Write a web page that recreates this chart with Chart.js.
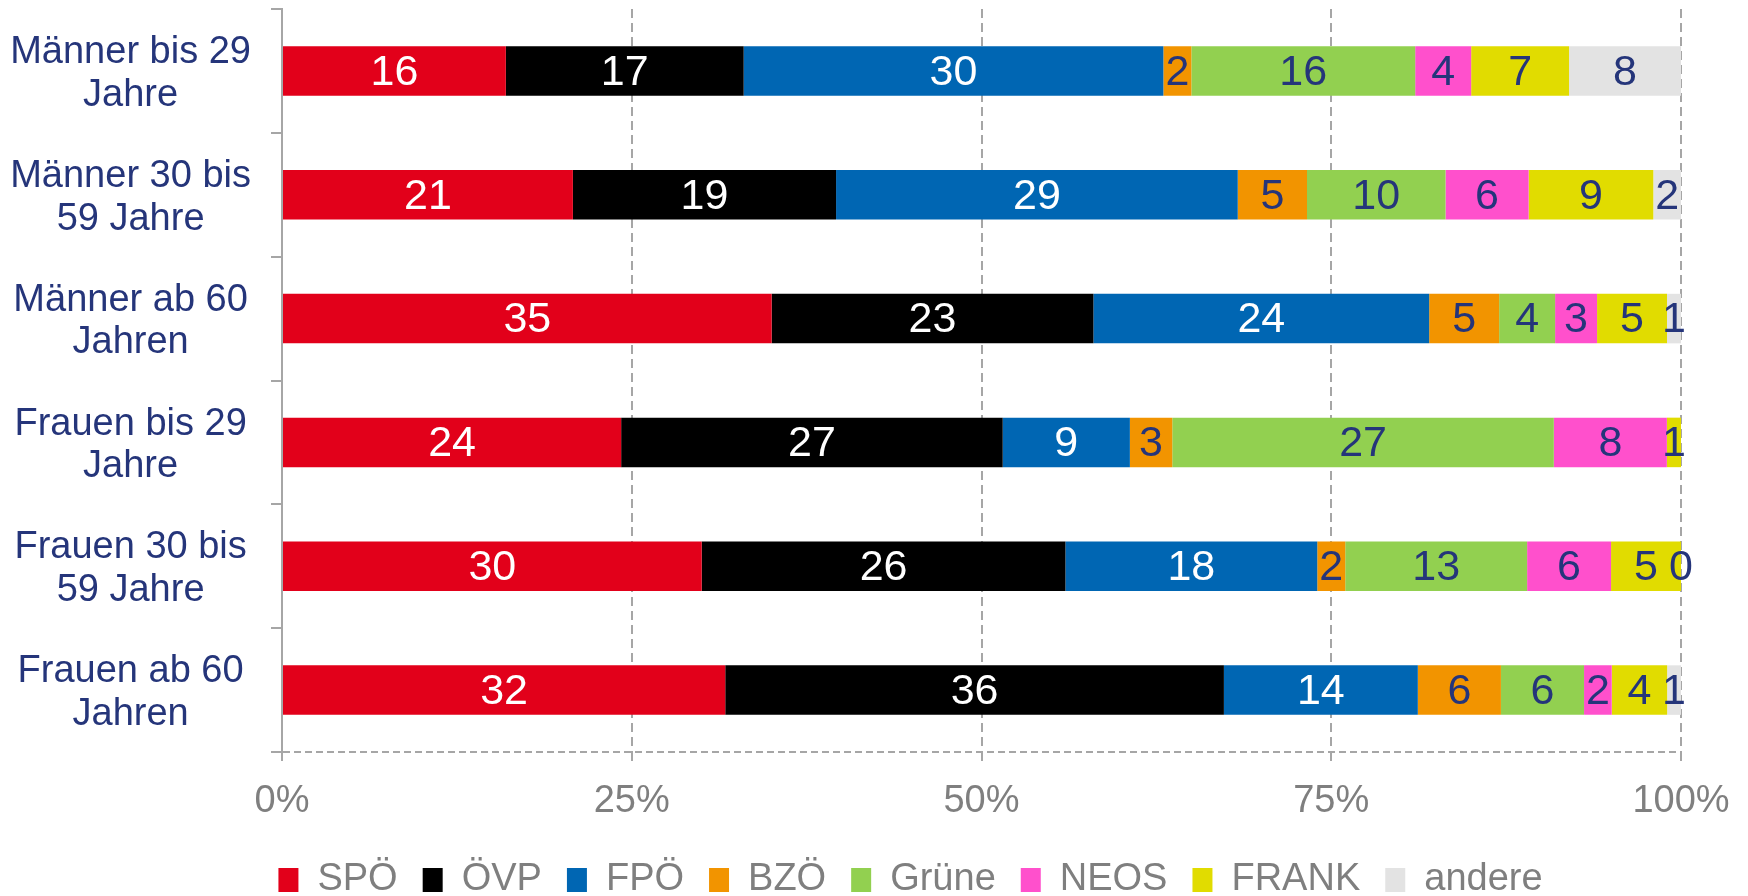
<!DOCTYPE html>
<html>
<head>
<meta charset="utf-8">
<script src="https://cdn.jsdelivr.net/npm/chart.js@4/dist/chart.umd.min.js"></script>
<style>
  html, body { margin: 0; padding: 0; background: #fff; }
</style>
</head>
<body>
<canvas id="chart" width="1748" height="896"></canvas>
<script>
// Wahlverhalten nach Geschlecht und Alter, Anteile in %
var categories = [
  ['Männer bis 29', 'Jahre'],
  ['Männer 30 bis', '59 Jahre'],
  ['Männer ab 60', 'Jahren'],
  ['Frauen bis 29', 'Jahre'],
  ['Frauen 30 bis', '59 Jahre'],
  ['Frauen ab 60', 'Jahren']
];
var parties = ['SPÖ', 'ÖVP', 'FPÖ', 'BZÖ', 'Grüne', 'NEOS', 'FRANK', 'andere'];
var spoe   = [16, 21, 35, 24, 30, 32];
var oevp   = [17, 19, 23, 27, 26, 36];
var fpoe   = [30, 29, 24,  9, 18, 14];
var bzoe   = [ 2,  5,  5,  3,  2,  6];
var gruene = [16, 10,  4, 27, 13,  6];
var neos   = [ 4,  6,  3,  8,  6,  2];
var frank  = [ 7,  9,  5,  1,  5,  4];
var andere = [ 8,  2,  1, null, 0,  1];
var xTicks = [0, 25, 50, 75, 100];

var series = [spoe, oevp, fpoe, bzoe, gruene, neos, frank, andere];
var colors = ['#E2001A', '#000000', '#0066B3', '#F29400', '#92D050', '#FF50CC', '#E1DC00', '#E3E3E3'];
var navy = '#25357A';
var gray = '#A6A6A6';
var font = '"Liberation Sans", Arial, sans-serif';

// 100% gestapelt: jede Zeile auf ihre Summe normieren
var rowSums = categories.map(function(c, j) {
  var s = 0;
  series.forEach(function(arr) { if (arr[j] !== null) s += arr[j]; });
  return s;
});

var datasets = parties.map(function(name, i) {
  return {
    label: name,
    shown: series[i],
    data: series[i].map(function(v, j) { return v === null ? null : v / rowSums[j] * 100; }),
    backgroundColor: colors[i],
    borderWidth: 0,
    barPercentage: 0.4,
    categoryPercentage: 1,
    labelColor: i < 3 ? '#FFFFFF' : navy
  };
});

// Zahlen in die Balken schreiben
var barLabels = {
  id: 'barLabels',
  afterDatasetsDraw: function(chart) {
    var ctx = chart.ctx;
    ctx.save();
    ctx.font = '43px ' + font;
    ctx.textAlign = 'center';
    ctx.textBaseline = 'middle';
    chart.data.datasets.forEach(function(ds, i) {
      chart.getDatasetMeta(i).data.forEach(function(bar, j) {
        var v = ds.shown[j];
        if (v === null) return;
        var p = bar.getCenterPoint();
        ctx.fillStyle = ds.labelColor;
        ctx.fillText(String(v), p.x, p.y + 2);
      });
    });
    ctx.restore();
  }
};

// Legende etwas nach rechts/unten schieben wie im Original
var legendNudge = {
  id: 'legendNudge',
  afterLayout: function(chart) {
    var lg = chart.legend;
    lg.left += 70; lg.right += 70;
    lg.top += 13; lg.bottom += 13;
  }
};

new Chart(document.getElementById('chart'), {
  type: 'bar',
  data: { labels: categories, datasets: datasets },
  plugins: [barLabels, legendNudge],
  options: {
    indexAxis: 'y',
    responsive: false,
    animation: false,
    devicePixelRatio: 1,
    layout: { padding: { top: 9, right: 67, left: 0, bottom: 0 } },
    plugins: {
      tooltip: { enabled: false },
      legend: {
        position: 'bottom',
        labels: {
          boxWidth: 20,
          boxHeight: 24,
          padding: 25,
          color: '#7F7F7F',
          font: { family: font, size: 38 }
        }
      }
    },
    scales: {
      x: {
        stacked: true,
        min: 0,
        max: 100,
        grid: { color: gray, lineWidth: 2, drawTicks: true, tickLength: 12, tickBorderDash: [9, 5] },
        border: { display: false, dash: [9, 5] },
        ticks: {
          color: '#7F7F7F',
          padding: 15,
          font: { family: font, size: 38 },
          callback: function(v) { return v + '%'; }
        },
        afterBuildTicks: function(scale) {
          scale.ticks = xTicks.map(function(v) { return { value: v }; });
        },
        afterFit: function(scale) {
          scale.height = 71;
          scale.paddingLeft = 0;
          scale.paddingRight = 0;
        }
      },
      y: {
        stacked: true,
        offset: true,
        grid: {
          offset: true,
          drawOnChartArea: true,
          drawTicks: true,
          tickLength: 11,
          lineWidth: 2,
          tickWidth: 2,
          tickColor: gray,
          // nur die unterste Linie (x-Achse) sichtbar
          color: function(c) { return c.type === 'scale' ? gray : 'rgba(0,0,0,0)'; }
        },
        border: { display: true, color: gray, width: 2, dash: [7, 4] },
        ticks: {
          color: navy,
          padding: 20,
          labelOffset: 3,
          crossAlign: 'center',
          font: { family: font, size: 38, lineHeight: 1.12 }
        },
        afterFit: function(scale) {
          scale.width = 282;
          scale.paddingTop = 0;
          scale.paddingBottom = 0;
        }
      }
    }
  }
});
</script>
</body>
</html>
